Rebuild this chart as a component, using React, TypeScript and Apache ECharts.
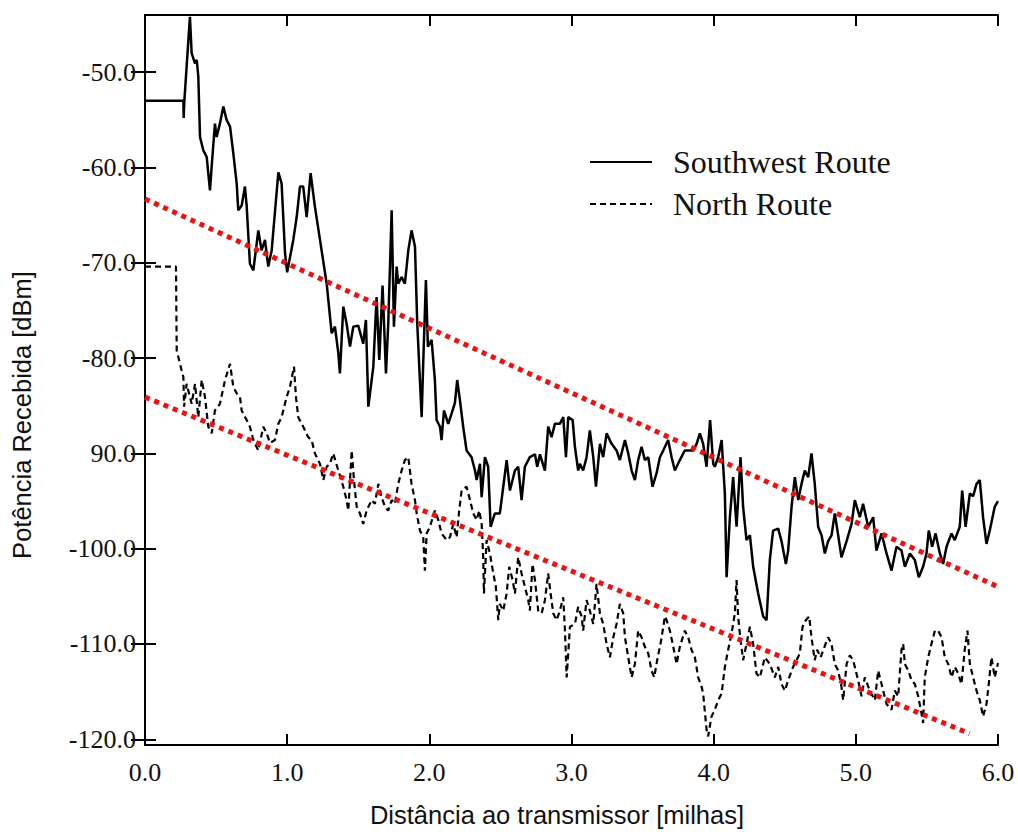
import React, { useEffect, useRef } from "react";
import * as echarts from "echarts";

// Distance [miles], received power [dBm]
const southwest: [number, number][] = [
  [0, -53.0], [0.27, -53.0], [0.272, -54.8], [0.276, -53.2], [0.316, -44.2], [0.328, -48.0], [0.352, -49.1], [0.364, -48.7],
  [0.375, -50.5], [0.387, -56.8], [0.41, -58.2], [0.434, -58.9], [0.457, -62.4], [0.469, -59.9], [0.492, -55.4], [0.504, -56.8],
  [0.527, -55.4], [0.551, -53.6], [0.574, -55.0], [0.598, -55.7], [0.621, -58.5], [0.645, -61.7], [0.656, -64.5], [0.68, -64.0],
  [0.703, -62.0], [0.715, -64.0], [0.738, -70.1], [0.762, -70.8], [0.797, -66.6], [0.82, -68.7], [0.844, -67.6], [0.867, -70.4],
  [0.891, -68.7], [0.938, -60.5], [0.961, -61.7], [0.985, -69.0], [1.0, -71.0], [1.043, -67.6], [1.067, -65.2], [1.09, -62.0],
  [1.113, -62.0], [1.137, -65.2], [1.165, -60.6], [1.195, -64.1], [1.231, -67.6], [1.278, -72.2], [1.313, -77.4], [1.336, -76.7],
  [1.36, -79.5], [1.371, -81.6], [1.395, -74.6], [1.418, -76.4], [1.442, -78.8], [1.465, -76.7], [1.5, -76.6], [1.535, -78.5],
  [1.554, -76.0], [1.571, -85.1], [1.606, -80.9], [1.629, -73.6], [1.648, -80.2], [1.671, -72.4], [1.695, -81.6], [1.711, -76.4],
  [1.735, -64.5], [1.751, -76.7], [1.77, -70.4], [1.781, -72.2], [1.805, -71.5], [1.828, -72.2], [1.852, -68.7], [1.875, -66.6],
  [1.899, -68.3], [1.915, -76.4], [1.946, -86.2], [1.957, -80.5], [1.976, -71.8], [1.99, -78.8], [2.016, -78.1], [2.039, -82.3],
  [2.051, -86.5], [2.075, -87.2], [2.086, -88.6], [2.103, -85.5], [2.133, -86.9], [2.157, -85.8], [2.18, -84.7], [2.196, -82.3],
  [2.215, -84.4], [2.238, -87.2], [2.262, -89.7], [2.297, -90.4], [2.321, -91.8], [2.333, -92.8], [2.356, -91.1], [2.368, -94.6],
  [2.391, -90.4], [2.414, -91.4], [2.431, -97.7], [2.461, -96.3], [2.496, -96.3], [2.52, -93.5], [2.544, -90.7], [2.567, -93.9],
  [2.602, -91.8], [2.625, -91.4], [2.649, -94.9], [2.672, -91.4], [2.707, -90.4], [2.743, -90.1], [2.759, -91.4], [2.778, -90.1],
  [2.813, -91.8], [2.836, -87.2], [2.86, -88.3], [2.883, -86.9], [2.918, -86.9], [2.942, -86.2], [2.961, -90.4], [2.977, -86.2],
  [3.008, -86.5], [3.024, -89.3], [3.047, -91.8], [3.059, -91.1], [3.082, -91.8], [3.106, -90.4], [3.129, -87.6], [3.153, -90.4],
  [3.172, -93.5], [3.2, -89.0], [3.223, -90.4], [3.247, -87.9], [3.282, -89.0], [3.317, -89.7], [3.34, -90.7], [3.376, -88.6],
  [3.399, -90.0], [3.423, -91.8], [3.446, -92.8], [3.469, -90.7], [3.493, -89.3], [3.516, -90.7], [3.54, -90.4], [3.57, -93.5],
  [3.598, -92.1], [3.622, -90.4], [3.645, -89.7], [3.68, -88.6], [3.704, -90.4], [3.727, -91.8], [3.762, -90.7], [3.797, -89.7],
  [3.833, -89.7], [3.856, -89.7], [3.88, -89.0], [3.903, -87.9], [3.926, -89.0], [3.95, -91.4], [3.975, -86.5], [3.997, -91.1],
  [4.008, -91.4], [4.032, -90.4], [4.056, -88.6], [4.079, -94.3], [4.091, -103.0], [4.114, -96.7], [4.137, -92.5], [4.161, -97.7],
  [4.189, -90.4], [4.207, -95.6], [4.231, -99.1], [4.255, -98.6], [4.278, -101.9], [4.313, -104.7], [4.348, -107.1], [4.372, -107.5],
  [4.395, -101.2], [4.418, -98.1], [4.454, -97.9], [4.477, -99.2], [4.508, -101.6], [4.524, -100.2], [4.548, -95.6], [4.571, -92.5],
  [4.595, -94.9], [4.618, -93.2], [4.641, -91.8], [4.665, -92.5], [4.688, -90.0], [4.711, -93.2], [4.735, -97.7], [4.759, -98.6],
  [4.782, -100.5], [4.805, -99.2], [4.829, -98.6], [4.852, -96.3], [4.876, -98.6], [4.899, -100.9], [4.935, -99.2], [4.97, -97.4],
  [4.993, -94.9], [5.028, -96.7], [5.051, -95.3], [5.087, -97.7], [5.122, -96.7], [5.145, -100.2], [5.181, -98.4], [5.216, -100.5],
  [5.251, -102.3], [5.286, -99.8], [5.321, -100.2], [5.345, -101.9], [5.38, -100.5], [5.415, -101.2], [5.443, -103.0], [5.473, -101.9],
  [5.497, -100.5], [5.513, -98.1], [5.537, -99.8], [5.561, -98.4], [5.591, -100.5], [5.614, -101.6], [5.638, -99.8], [5.673, -98.4],
  [5.696, -99.1], [5.731, -97.7], [5.748, -93.9], [5.772, -97.7], [5.802, -94.2], [5.825, -94.5], [5.849, -93.2], [5.872, -92.8],
  [5.895, -96.7], [5.919, -99.5], [5.942, -98.1], [5.977, -95.6], [6.0, -95.0],
];

const north: [number, number][] = [
  [0, -70.4], [0.218, -70.4], [0.223, -79.2], [0.258, -81.3], [0.27, -82.0], [0.275, -85.1], [0.293, -82.7], [0.328, -84.8],
  [0.352, -82.7], [0.375, -86.2], [0.399, -82.3], [0.422, -84.1], [0.445, -87.2], [0.469, -87.9], [0.492, -85.5], [0.527, -84.8],
  [0.563, -82.3], [0.598, -80.6], [0.621, -83.0], [0.645, -83.7], [0.668, -84.1], [0.68, -85.5], [0.715, -86.5], [0.738, -87.2],
  [0.762, -88.6], [0.797, -89.7], [0.832, -87.2], [0.856, -87.9], [0.879, -88.9], [0.914, -88.6], [0.938, -86.9], [0.961, -86.2],
  [0.996, -84.1], [1.02, -83.0], [1.048, -80.9], [1.062, -84.1], [1.078, -86.2], [1.113, -87.2], [1.148, -88.3], [1.172, -88.6],
  [1.195, -90.0], [1.231, -91.1], [1.254, -92.8], [1.278, -91.4], [1.301, -91.1], [1.324, -90.0], [1.36, -91.8], [1.395, -93.5],
  [1.418, -94.9], [1.43, -96.0], [1.454, -89.7], [1.47, -92.8], [1.489, -95.6], [1.512, -96.3], [1.535, -97.4], [1.559, -96.0],
  [1.594, -94.9], [1.617, -95.3], [1.641, -93.2], [1.664, -94.6], [1.688, -95.6], [1.711, -96.0], [1.735, -94.9], [1.758, -95.3],
  [1.781, -93.2], [1.805, -91.8], [1.828, -90.7], [1.852, -90.4], [1.875, -93.2], [1.899, -94.9], [1.911, -96.3], [1.934, -98.1],
  [1.957, -98.8], [1.969, -102.3], [1.981, -98.4], [2.004, -97.7], [2.039, -96.0], [2.063, -97.0], [2.086, -98.4], [2.122, -99.1],
  [2.145, -98.8], [2.168, -97.4], [2.192, -98.8], [2.21, -96.0], [2.227, -93.9], [2.262, -93.5], [2.286, -94.9], [2.309, -96.3],
  [2.333, -97.0], [2.351, -96.0], [2.368, -97.4], [2.379, -100.9], [2.384, -104.7], [2.403, -99.1], [2.426, -100.5], [2.45, -102.6],
  [2.468, -104.0], [2.485, -107.5], [2.496, -105.8], [2.52, -106.5], [2.544, -104.7], [2.562, -101.9], [2.586, -103.3], [2.602, -104.7],
  [2.625, -100.9], [2.649, -102.6], [2.672, -104.0], [2.696, -105.4], [2.707, -106.5], [2.726, -101.6], [2.743, -103.3], [2.766, -106.5],
  [2.79, -106.8], [2.813, -105.4], [2.836, -102.6], [2.853, -104.7], [2.872, -106.8], [2.895, -107.5], [2.918, -106.5], [2.942, -105.1],
  [2.954, -108.6], [2.966, -113.5], [2.989, -108.2], [3.024, -107.9], [3.047, -106.1], [3.071, -107.1], [3.082, -108.6], [3.106, -105.4],
  [3.129, -106.5], [3.153, -107.9], [3.176, -103.7], [3.2, -106.8], [3.223, -107.9], [3.247, -110.0], [3.27, -111.4], [3.294, -109.3],
  [3.317, -107.9], [3.34, -105.8], [3.364, -106.8], [3.376, -109.3], [3.399, -111.4], [3.423, -113.5], [3.446, -112.1], [3.469, -108.6],
  [3.493, -109.3], [3.516, -110.3], [3.54, -111.0], [3.563, -112.8], [3.582, -113.5], [3.606, -111.4], [3.622, -110.3], [3.634, -109.3],
  [3.657, -107.1], [3.669, -107.5], [3.692, -108.6], [3.716, -110.3], [3.739, -112.1], [3.762, -110.3], [3.797, -108.6], [3.821, -109.3],
  [3.844, -110.6], [3.868, -111.4], [3.891, -113.5], [3.915, -114.5], [3.926, -115.2], [3.95, -119.0], [3.961, -119.7], [3.985, -117.6],
  [4.008, -116.9], [4.032, -115.9], [4.056, -115.2], [4.079, -112.4], [4.102, -110.6], [4.126, -108.9], [4.149, -106.8], [4.161, -103.3],
  [4.172, -107.1], [4.184, -108.9], [4.207, -111.7], [4.231, -110.0], [4.255, -108.2], [4.278, -110.0], [4.301, -113.1], [4.325, -113.5],
  [4.36, -111.4], [4.395, -112.1], [4.43, -113.5], [4.454, -112.4], [4.477, -114.2], [4.501, -114.9], [4.524, -113.8], [4.559, -112.4],
  [4.583, -111.7], [4.606, -111.0], [4.625, -108.2], [4.648, -107.5], [4.672, -107.1], [4.688, -109.3], [4.711, -111.7], [4.728, -110.6],
  [4.752, -111.4], [4.787, -110.0], [4.805, -109.3], [4.829, -110.0], [4.852, -112.1], [4.876, -112.8], [4.899, -114.5], [4.911, -115.9],
  [4.935, -112.1], [4.958, -111.2], [4.981, -111.7], [5.016, -113.8], [5.04, -115.5], [5.063, -113.5], [5.098, -114.9], [5.134, -115.9],
  [5.157, -112.8], [5.181, -114.2], [5.216, -116.3], [5.251, -116.9], [5.274, -114.9], [5.298, -115.5], [5.321, -110.6], [5.333, -110.0],
  [5.345, -112.1], [5.369, -112.8], [5.392, -113.8], [5.415, -114.2], [5.439, -115.5], [5.462, -117.3], [5.473, -118.3], [5.485, -113.5],
  [5.509, -111.4], [5.532, -110.0], [5.556, -108.6], [5.579, -108.6], [5.603, -109.3], [5.626, -111.4], [5.65, -112.1], [5.673, -113.5],
  [5.696, -112.4], [5.72, -113.1], [5.743, -114.2], [5.766, -110.6], [5.785, -108.6], [5.802, -112.1], [5.825, -113.5], [5.849, -114.9],
  [5.872, -115.9], [5.895, -117.6], [5.919, -116.3], [5.935, -114.2], [5.954, -111.4], [5.977, -113.5], [6.0, -112.0],
];

const trendSouthwest: [number, number][] = [[0, -63.3], [6.0, -104.0]];
const trendNorth: [number, number][] = [[0, -84.1], [5.8, -119.4]];

const xTickValues = [0, 1, 2, 3, 4, 5, 6];
const xTickLabels = ["0.0", "1.0", "2.0", "3.0", "4.0", "5.0", "6.0"];
const yTickValues = [-50, -60, -70, -80, -90, -100, -110, -120];
const yTickLabels = ["-50.0", "-60.0", "-70.0", "-80.0", "90.0", "-100.0", "-110.0", "-120.0"];

const seriesNames = ["Southwest Route", "North Route"];

const SERIF = "'Liberation Serif', 'Times New Roman', serif";
const SANS = "'Liberation Sans', Arial, sans-serif";

export default function App() {
  const ref = useRef<HTMLDivElement>(null);

  useEffect(() => {
    if (!ref.current) return;
    const chart = echarts.init(ref.current, null, { renderer: "svg" });
    const axisLine = { show: true, lineStyle: { color: "#000", width: 2 } };
    const tick = { show: true, inside: true, length: 11, lineStyle: { color: "#000", width: 2 } };
    const xFmt = (v: number) => {
      const i = xTickValues.indexOf(Math.round(v));
      return i >= 0 ? xTickLabels[i] : "";
    };
    const yFmt = (v: number) => {
      const i = yTickValues.indexOf(Math.round(v));
      return i >= 0 ? yTickLabels[i] : "";
    };
    chart.setOption({
      animation: false,
      backgroundColor: "#fff",
      grid: { left: 145, right: 20, top: 15, bottom: 87, containLabel: false },
      legend: {
        data: seriesNames,
        orient: "vertical",
        left: 584,
        top: 141,
        itemWidth: 62,
        itemHeight: 14,
        itemGap: 10,
        itemStyle: { opacity: 0 },
        textStyle: { fontFamily: SERIF, fontSize: 32, color: "#111", padding: [0, 0, 0, 16] },
        selectedMode: false,
      },
      xAxis: [
        {
          type: "value", min: 0, max: 6, interval: 1, position: "bottom",
          axisLine, axisTick: tick, splitLine: { show: false },
          axisLabel: { formatter: xFmt, fontFamily: SERIF, fontSize: 26, color: "#111", margin: 14 },
        },
        {
          type: "value", min: 0, max: 6, interval: 1, position: "top",
          axisLine, axisTick: tick, splitLine: { show: false }, axisLabel: { show: false },
        },
      ],
      yAxis: [
        {
          type: "value", min: -120.6, max: -44, position: "left",
          axisLine, splitLine: { show: false },
          axisTick: { ...tick, customValues: yTickValues },
          axisLabel: { customValues: yTickValues, formatter: yFmt, fontFamily: SERIF, fontSize: 26, color: "#111", margin: 9 },
        },
        {
          type: "value", min: -120.6, max: -44, position: "right",
          axisLine, splitLine: { show: false },
          axisTick: { ...tick, length: 14, customValues: yTickValues },
          axisLabel: { show: false },
        },
      ],
      series: [
        {
          name: seriesNames[0], type: "line", data: southwest, symbol: "none", smooth: false,
          lineStyle: { color: "#000", width: 2.5 }, itemStyle: { color: "#000" }, z: 3,
        },
        {
          name: seriesNames[1], type: "line", data: north, symbol: "none", smooth: false,
          lineStyle: { color: "#000", width: 2.2, type: [6, 4] }, itemStyle: { color: "#000" }, z: 3,
        },
        {
          name: "trend-sw", type: "line", data: trendSouthwest, symbol: "none",
          lineStyle: { color: "#ee1111", width: 5, type: [5, 5], cap: "butt" }, z: 4, silent: true,
        },
        {
          name: "trend-n", type: "line", data: trendNorth, symbol: "none",
          lineStyle: { color: "#ee1111", width: 5, type: [5, 5], cap: "butt" }, z: 4, silent: true,
        },
      ],
      graphic: [
        {
          type: "text", x: 22, y: 415, rotation: Math.PI / 2,
          style: { text: "Potência Recebida [dBm]", fontFamily: SANS, fontSize: 25.5, fill: "#111", align: "center", verticalAlign: "middle" },
        },
        {
          type: "text", x: 557, y: 815,
          style: { text: "Distância ao transmissor [milhas]", fontFamily: SANS, fontSize: 25.5, fill: "#111", align: "center", verticalAlign: "middle" },
        },
      ],
    });
    return () => chart.dispose();
  }, []);

  return <div ref={ref} style={{ position: "fixed", left: 0, top: 0, width: 1018, height: 832, background: "#fff" }} />;
}
